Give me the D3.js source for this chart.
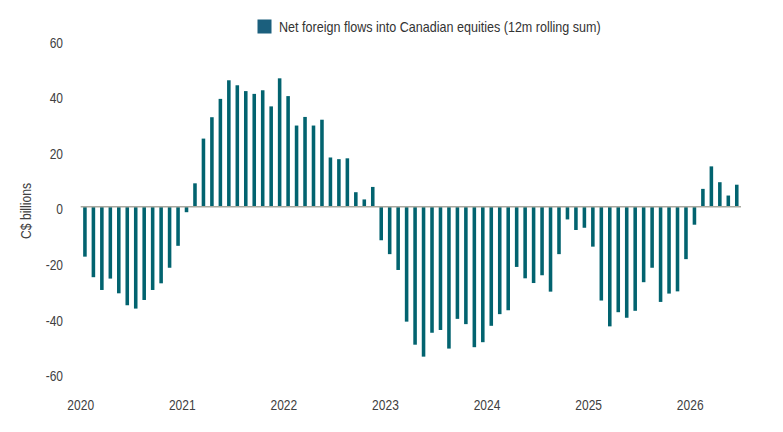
<!DOCTYPE html>
<html>
<head>
<meta charset="utf-8">
<script src="https://cdn.jsdelivr.net/npm/d3@7"></script>
<style>
  body { margin: 0; background: #fff; }
  text { font-family: "Liberation Sans Narrow", "Arial Narrow", "Liberation Sans", Arial, sans-serif; }
</style>
</head>
<body>
<div id="chart"></div>
<script>
// months Jan 2020 .. Jun 2026
const years = [2020, 2021, 2022, 2023, 2024, 2025, 2026];
const months = [];
years.forEach(y => {
    for (let m = 1; m <= 12; m++) {
        if (y === 2026 && m > 6) break;
        months.push(y + '-' + String(m).padStart(2, '0'));
    }
});

// net foreign flows, C$ billions, 12m rolling sum
const flows = [
    -18.0, -25.4, -30.0, -25.9, -31.2, -35.5, -36.7, -33.6, -30.0, -27.6, -22.0, -14.1,
    -2.0, 8.4, 24.5, 32.2, 38.8, 45.5, 43.7, 41.6, 40.6, 41.9, 36.1, 46.2,
    39.8, 29.2, 32.3, 29.2, 31.3, 17.7, 17.1, 17.4, 5.2, 2.6, 7.1, -12.1,
    -17.1, -22.8, -41.4, -49.7, -54.0, -45.4, -44.4, -51.1, -40.4, -42.3, -50.6, -48.8,
    -42.9, -38.7, -37.3, -21.7, -25.8, -27.5, -24.7, -30.6, -17.1, -4.6, -8.4, -7.6,
    -14.4, -33.8, -43.1, -38.0, -40.0, -37.5, -27.2, -22.0, -34.3, -31.3, -30.5, -18.9,
    -6.5, 6.4, 14.5, 8.8, 4.0, 7.9
];

const yTicks = [-60, -40, -20, 0, 20, 40, 60];
const legendLabel = 'Net foreign flows into Canadian equities (12m rolling sum)';

const width = 783, height = 432;
const left = 80.7, right = 741;

const svg = d3.select('#chart')
    .append('svg')
    .attr('width', width)
    .attr('height', height);

// the original uses a narrow face; squeeze the regular one if no narrow font is around
function narrow(sel, k) {
    sel.each(function () {
        const w = this.getComputedTextLength();
        d3.select(this)
            .attr('textLength', w * k)
            .attr('lengthAdjust', 'spacingAndGlyphs');
    });
}

const x = d3.scaleBand()
    .domain(months)
    .range([left, right])
    .paddingInner(0.58)
    .paddingOuter(0.29);

const y = d3.scaleLinear()
    .domain([-60, 60])
    .range([373.3, 40]);

// bars
svg.append('g')
    .selectAll('rect')
    .data(flows)
    .join('rect')
    .attr('x', (d, i) => x(months[i]))
    .attr('width', x.bandwidth())
    .attr('y', d => y(Math.max(0, d)))
    .attr('height', d => Math.abs(y(d) - y(0)))
    .attr('fill', '#02636f');

// zero line
svg.append('line')
    .attr('x1', left)
    .attr('x2', right)
    .attr('y1', y(0))
    .attr('y2', y(0))
    .attr('stroke', '#a9a9a0')
    .attr('stroke-width', 1.5);

// y axis (labels only)
const yAxis = svg.append('g')
    .attr('transform', 'translate(66, 2.5)')
    .call(d3.axisLeft(y).tickValues(yTicks).tickFormat(d => String(d)).tickSize(0).tickPadding(3));
yAxis.select('.domain').remove();
yAxis.selectAll('text')
    .attr('fill', '#404040')
    .style('font-size', '15px')
    .call(narrow, 0.8);

// x axis, labels sit at the start of each January
const januaries = months.filter(m => m.endsWith('-01'));
const xAxis = svg.append('g')
    .attr('transform', 'translate(' + (-x.step() / 2) + ', 396)')
    .call(d3.axisBottom(x).tickValues(januaries).tickFormat(m => m.slice(0, 4)).tickSize(0).tickPadding(3));
xAxis.select('.domain').remove();
xAxis.selectAll('text')
    .attr('fill', '#404040')
    .style('font-size', '15px')
    .call(narrow, 0.8);

// y axis title
svg.append('text')
    .attr('transform', 'translate(26, 211) rotate(-90)')
    .attr('text-anchor', 'middle')
    .attr('dy', '0.35em')
    .attr('fill', '#404040')
    .style('font-size', '15px')
    .text('C$ billions')
    .call(narrow, 0.81);

// legend
const legend = svg.append('g').attr('transform', 'translate(257.5, 19.5)');
legend.append('rect')
    .attr('width', 14)
    .attr('height', 14)
    .attr('fill', '#1b5f7d');
legend.append('text')
    .attr('x', 21.5)
    .attr('y', 7)
    .attr('dy', '0.35em')
    .attr('fill', '#333')
    .style('font-size', '15px')
    .text(legendLabel)
    .call(narrow, 0.837);
</script>
</body>
</html>
